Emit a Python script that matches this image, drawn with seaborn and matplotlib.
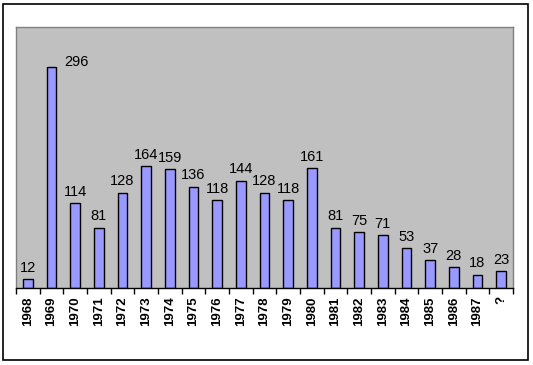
import matplotlib.pyplot as plt
import matplotlib.patches as patches
import seaborn as sns
import pandas as pd
import numpy as np

# Data
years = ["1968", "1969", "1970", "1971", "1972", "1973", "1974", "1975", "1976", "1977",
         "1978", "1979", "1980", "1981", "1982", "1983", "1984", "1985", "1986", "1987", "?"]
counts = [12, 296, 114, 81, 128, 164, 159, 136, 118, 144,
          128, 118, 161, 81, 75, 71, 53, 37, 28, 18, 23]

df = pd.DataFrame({"year": years, "count": counts})

plt.rcParams["font.family"] = ["Liberation Sans", "DejaVu Sans"]

W, H = 533, 365
fig = plt.figure(figsize=(W / 100, H / 100), dpi=100)
fig.patch.set_facecolor("white")

# outer chart border
fig.patches.append(
    patches.Rectangle((3 / W, 1 - 360 / H), 525 / W, 356 / H, transform=fig.transFigure,
                      fill=False, edgecolor="black", linewidth=1.2)
)

ax = fig.add_axes([16 / W, 1 - 288 / H, 497 / W, 261 / H])
ax.set_facecolor("#C0C0C0")

sns.barplot(data=df, x="year", y="count", color="#9999FF", edgecolor="black",
            linewidth=1, width=0.42, saturation=1, ax=ax)

ax.set_ylim(0, 350)
ax.set_xlim(-0.5, len(years) - 0.5)
ax.set_xlabel("")
ax.set_ylabel("")
ax.set_yticks([])

# category labels, bold and rotated
ax.set_xticks(range(len(years)))
ax.set_xticklabels(years, rotation=90, fontsize=9.5, fontweight="bold")
ax.tick_params(axis="x", which="major", length=0, pad=6)
ax.set_xticks(np.arange(-0.5, len(years), 1), minor=True)
ax.tick_params(axis="x", which="minor", length=4, width=1, direction="out", color="black")

for s in ["top", "right", "left"]:
    ax.spines[s].set_color("#808080")
    ax.spines[s].set_linewidth(1)
ax.spines["bottom"].set_color("black")
ax.spines["bottom"].set_linewidth(1)

# value labels
for i, v in enumerate(counts):
    if years[i] == "1969":
        dx, dy = 18, -1
    else:
        dx, dy = 0, 3
    ax.annotate(str(v), (i, v), xytext=(dx, dy), textcoords="offset points",
                ha="center", va="bottom", fontsize=10.5)

fig.savefig("out.png", dpi=100)
